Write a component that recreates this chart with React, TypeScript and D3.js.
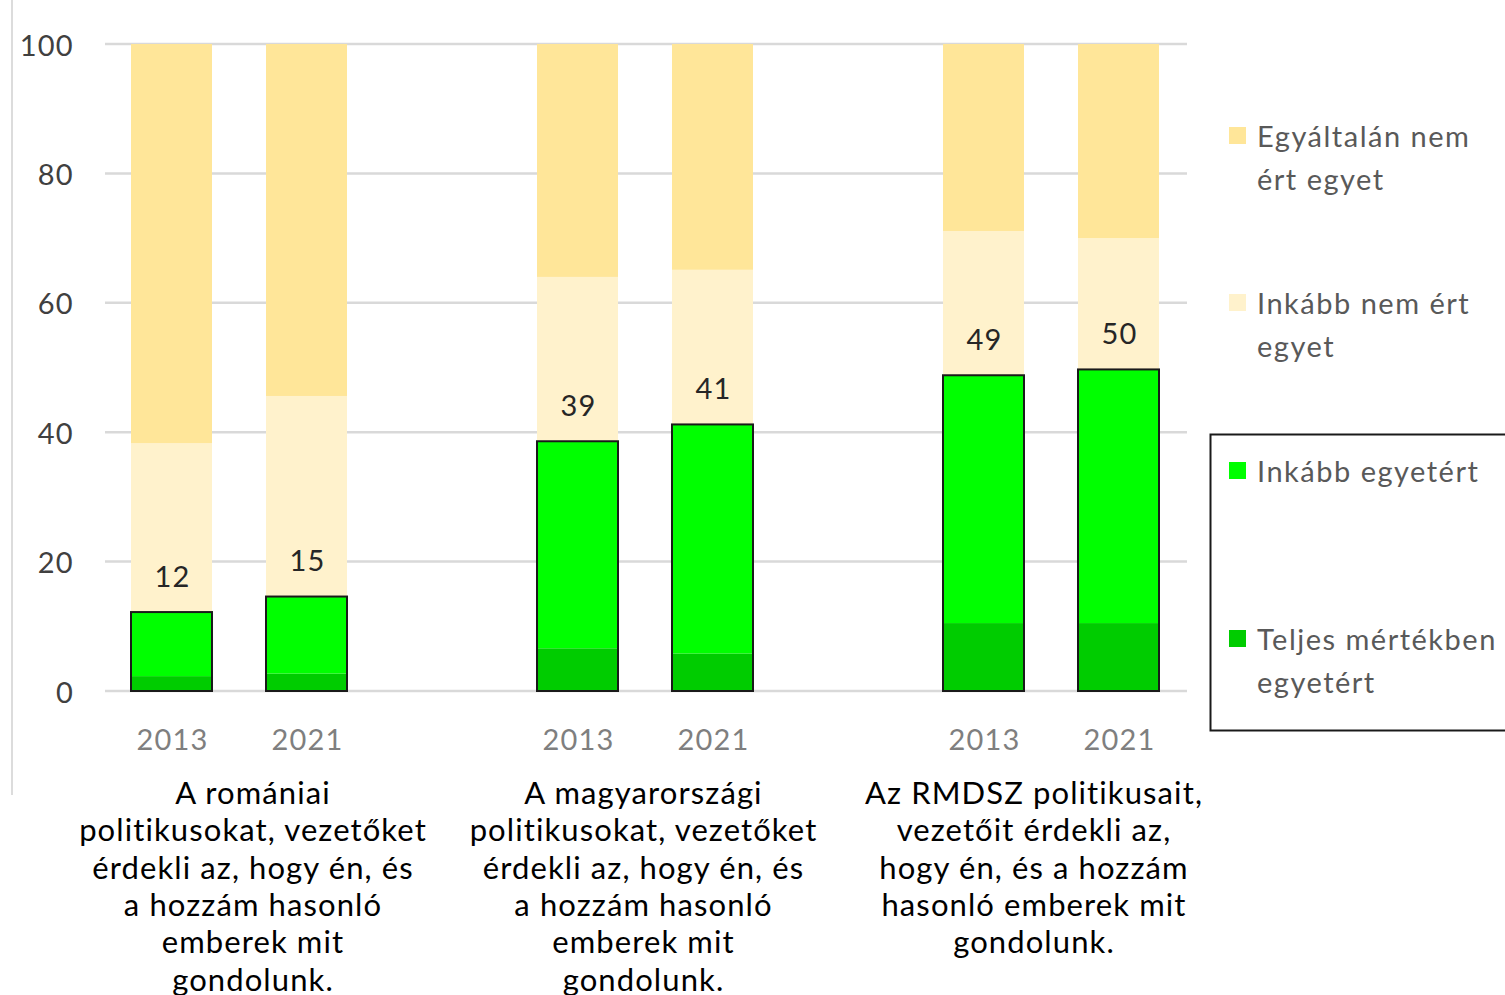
import React from "react";
import * as d3 from "d3";

const groups = ["g1", "g2", "g3"];
const groupLabels: string[][] = [
  ["A romániai", "politikusokat, vezetőket", "érdekli az, hogy én, és", "a hozzám hasonló", "emberek mit", "gondolunk."],
  ["A magyarországi", "politikusokat, vezetőket", "érdekli az, hogy én, és", "a hozzám hasonló", "emberek mit", "gondolunk."],
  ["Az RMDSZ politikusait,", "vezetőit érdekli az,", "hogy én, és a hozzám", "hasonló emberek mit", "gondolunk."],
];
const years = ["2013", "2021"];

// values per bar, order: g1-2013, g1-2021, g2-2013, g2-2021, g3-2013, g3-2021
const teljes = [2.3, 2.7, 6.6, 5.8, 10.5, 10.5];
const inkabbEgyetert = [9.9, 11.9, 32.0, 35.4, 38.3, 39.2];
const inkabbNem = [26.1, 31.0, 25.4, 23.9, 22.3, 20.3];
const egyaltalanNem = [61.7, 54.4, 36.0, 34.9, 28.9, 30.0];

const seriesNames = ["Teljes mértékben egyetért", "Inkább egyetért", "Inkább nem ért egyet", "Egyáltalán nem ért egyet"];
const seriesColors = ["#00CC00", "#00FF00", "#FFF2CC", "#FFE699"];
const yTicks = [0, 20, 40, 60, 80, 100];

const legendItems = [
  { lines: ["Egyáltalán nem", "ért egyet"], color: "#FFE699" },
  { lines: ["Inkább nem ért", "egyet"], color: "#FFF2CC" },
  { lines: ["Inkább egyetért"], color: "#00FF00" },
  { lines: ["Teljes mértékben", "egyetért"], color: "#00CC00" },
];

const FONT = "Lato, 'Open Sans', sans-serif";

export default function App() {
  const W = 1505, H = 995;
  const y = d3.scaleLinear().domain([0, 100]).range([691, 44]);
  const xGroup = d3.scaleBand<string>().domain(groups).range([36, 1254]);
  const xYear = d3.scaleBand<string>().domain(years).range([95, 311]).paddingInner(0.4).paddingOuter(0);
  const xLabel = d3.scalePoint<string>().domain(groups).range([253, 1034]);

  const rows = groups.flatMap((g, gi) =>
    years.map((yr, yi) => {
      const i = gi * 2 + yi;
      return { g, yr, i, vals: [teljes[i], inkabbEgyetert[i], inkabbNem[i], egyaltalanNem[i]] };
    })
  );
  const stack = d3.stack<any>().keys([0, 1, 2, 3] as any).value((d: any, k: any) => d.vals[k]);
  const stacked = stack(rows as any);

  const legendY = [136, 303, 471, 639];

  return (
    <svg width={W} height={H} style={{ position: "absolute", left: 0, top: 0, background: "#fff" }} fontFamily={FONT}>
      <line x1={12} x2={12} y1={0} y2={795} stroke="#d0d0d0" strokeWidth={1.5} />
      {yTicks.map((t) => (
        <g key={t}>
          <line x1={105} x2={1187} y1={y(t)} y2={y(t)} stroke="#d9d9d9" strokeWidth={2.5} />
          <text x={74} y={y(t)} textAnchor="end" dominantBaseline="central" fontSize={29} letterSpacing={1.3} fill="#404040">{t}</text>
        </g>
      ))}
      {stacked.map((s, si) =>
        s.map((d: any, di: number) => {
          const r = rows[di];
          const x = xGroup(r.g)! + xYear(r.yr)!;
          return (
            <rect key={`${si}-${di}`} x={x} width={xYear.bandwidth()} y={y(d[1])} height={y(d[0]) - y(d[1])} fill={seriesColors[si]} />
          );
        })
      )}
      {rows.map((r) => {
        const x = xGroup(r.g)! + xYear(r.yr)!;
        const total = r.vals[0] + r.vals[1];
        return (
          <g key={`o-${r.i}`}>
            <rect x={x} width={xYear.bandwidth()} y={y(total)} height={y(0) - y(total)} fill="none" stroke="#1a1a1a" strokeWidth={2} />
            <text x={x + xYear.bandwidth() / 2 + 1} y={y(total) - 37} textAnchor="middle" dominantBaseline="central" fontSize={29} letterSpacing={1.3} fill="#262626">
              {Math.round(total)}
            </text>
            <text x={x + xYear.bandwidth() / 2 + 1} y={738} textAnchor="middle" dominantBaseline="central" fontSize={29} letterSpacing={1.2} fill="#7f7f7f">
              {r.yr}
            </text>
          </g>
        );
      })}
      {groups.map((g, gi) => (
        <text key={g} textAnchor="middle" fontSize={31} letterSpacing={1.1} fill="#000">
          {groupLabels[gi].map((l, li) => (
            <tspan key={li} x={xLabel(g)} y={792 + li * 37.3} dominantBaseline="central">{l}</tspan>
          ))}
        </text>
      ))}
      <rect x={1210.5} y={434.5} width={310} height={296} fill="none" stroke="#1a1a1a" strokeWidth={2} />
      {legendItems.map((it, i) => (
        <g key={i}>
          <rect x={1229} y={legendY[i] - 9} width={17} height={17} fill={it.color} />
          {it.lines.map((l, li) => (
            <text key={li} x={1257} y={legendY[i] - 1 + li * 43.5} dominantBaseline="central" fontSize={29} letterSpacing={1.5} fill="#595959">{l}</text>
          ))}
        </g>
      ))}
    </svg>
  );
}
